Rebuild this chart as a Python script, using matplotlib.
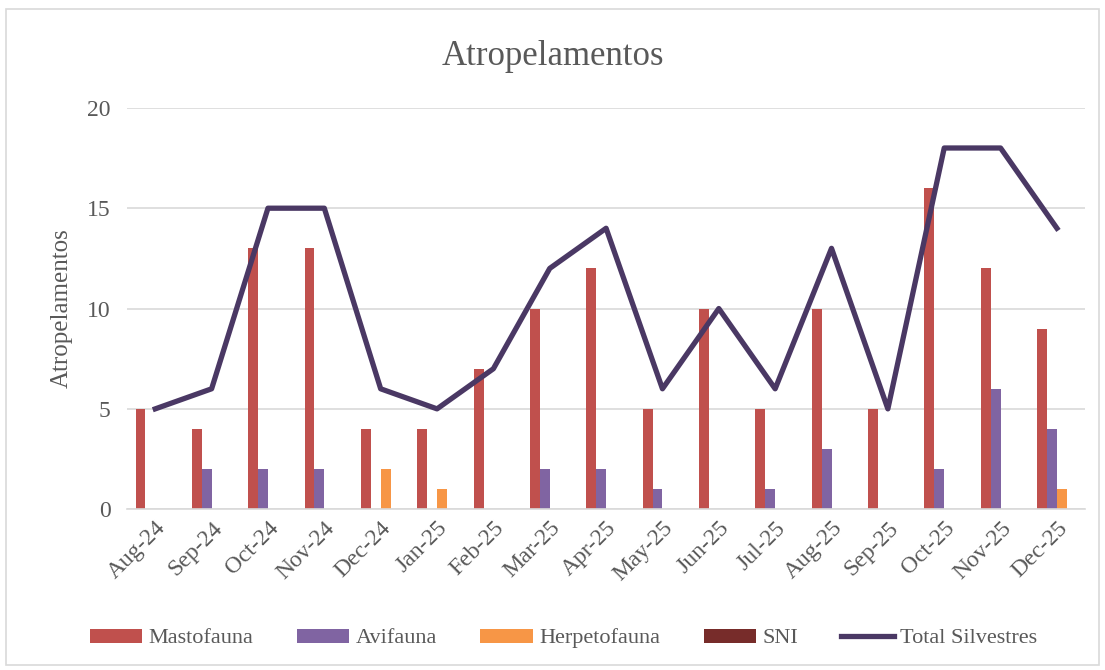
import matplotlib.pyplot as plt
import numpy as np
from matplotlib.patches import Rectangle

months = ['Aug-24', 'Sep-24', 'Oct-24', 'Nov-24', 'Dec-24', 'Jan-25', 'Feb-25', 'Mar-25', 'Apr-25',
          'May-25', 'Jun-25', 'Jul-25', 'Aug-25', 'Sep-25', 'Oct-25', 'Nov-25', 'Dec-25']
mastofauna = [5, 4, 13, 13, 4, 4, 7, 10, 12, 5, 10, 5, 10, 5, 16, 12, 9]
avifauna = [0, 2, 2, 2, 0, 0, 0, 2, 2, 1, 0, 1, 3, 0, 2, 6, 4]
herpetofauna = [0, 0, 0, 0, 2, 1, 0, 0, 0, 0, 0, 0, 0, 0, 0, 0, 1]
sni = [0] * 17
total = [5, 6, 15, 15, 6, 5, 7, 12, 14, 6, 10, 6, 13, 5, 18, 18, 14]

plt.rcParams['font.family'] = ['Liberation Serif', 'DejaVu Serif']
text_color = '#595959'

fig = plt.figure(figsize=(11.05, 6.7), dpi=100)
fig.patches.append(Rectangle((0.005, 0.008), 0.99, 0.978, transform=fig.transFigure,
                             fill=False, edgecolor='#D9D9D9', linewidth=1.2))
ax = fig.add_axes([0.115, 0.240, 0.867, 0.599])

x = np.arange(len(months))
w = 0.175
series = [(mastofauna, 'Mastofauna', '#C0504D'),
          (avifauna, 'Avifauna', '#8064A2'),
          (herpetofauna, 'Herpetofauna', '#F79646'),
          (sni, 'SNI', '#772C2A')]
handles = []
for i, (vals, name, col) in enumerate(series):
    b = ax.bar(x + (i - 1.5) * w, vals, w, color=col, label=name, zorder=2)
    handles.append(b)

line, = ax.plot(x, total, color='#4A3864', linewidth=3.8, label='Total Silvestres', zorder=3)
handles.append(line)

ax.set_xlim(-0.5, len(months) - 0.5)
ax.set_ylim(0, 20)
ax.set_yticks([0, 5, 10, 15, 20])
ax.yaxis.grid(True, color='#D9D9D9', linewidth=1.2, zorder=0)
ax.set_axisbelow(True)
for s in ['top', 'right', 'left']:
    ax.spines[s].set_visible(False)
ax.spines['bottom'].set_color('#D9D9D9')
ax.spines['bottom'].set_linewidth(1.2)
ax.tick_params(axis='both', length=0, colors=text_color, labelsize=17)
ax.tick_params(axis='y', pad=12)
ax.set_xticks(x)
ax.set_xticklabels(months, rotation=45, ha='right', rotation_mode='anchor')
ax.tick_params(axis='x', pad=6)

ax.set_ylabel('Atropelamentos', fontsize=18, color=text_color, labelpad=10)
fig.text(0.5, 0.915, 'Atropelamentos', ha='center', va='center', fontsize=25, color=text_color)

fig.legend(handles=handles, loc='center', bbox_to_anchor=(0.51, 0.047), ncol=5, frameon=False,
           fontsize=16, handlelength=2.35, handleheight=0.6, columnspacing=1.95, handletextpad=0.3,
           labelcolor=text_color)

plt.savefig('out.png', dpi=100)
plt.close()
